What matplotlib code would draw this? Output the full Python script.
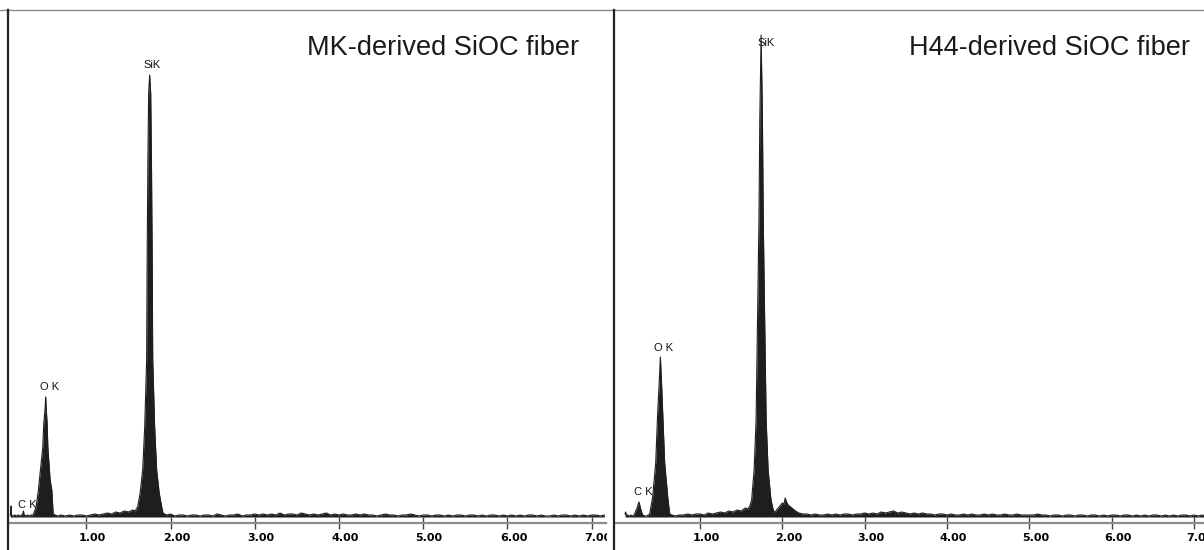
import numpy as np
import matplotlib
matplotlib.use("Agg")
import matplotlib.pyplot as plt
from matplotlib.lines import Line2D
from matplotlib.ticker import FixedLocator, FormatStrFormatter
from matplotlib.transforms import ScaledTranslation, Bbox, TransformedBbox

# ---- data (energy in keV, counts in arb. units) ----
mk_head_energy = [0.095, 0.100, 0.107, 0.112, 0.13, 0.15, 0.17, 0.19, 0.21, 0.23, 0.245, 0.253, 0.262,
                  0.28, 0.30, 0.32, 0.34, 0.368, 0.404, 0.431, 0.443, 0.483, 0.495, 0.511, 0.517, 0.523,
                  0.534, 0.543, 0.570, 0.590, 0.602, 0.606, 0.63, 0.66, 0.70, 0.75, 0.80, 0.85, 0.90,
                  0.95, 1.00, 1.05, 1.10, 1.15, 1.20, 1.25, 1.30, 1.35, 1.40, 1.45, 1.50, 1.55, 1.58,
                  1.609, 1.639, 1.669, 1.693, 1.716, 1.722, 1.731, 1.740, 1.752, 1.764, 1.773, 1.782,
                  1.788, 1.811, 1.835, 1.865, 1.895, 1.91, 1.95, 2.00, 2.05, 2.10, 2.15, 2.20, 2.25]
mk_head_counts = [2, 3, 11, 2, 1, 2, 1, 2, 1, 2, 3, 6, 2,
                  1, 2, 1, 2, 2, 10, 27, 37, 70, 94, 109, 120, 109,
                  94, 70, 37, 27, 10, 3, 2, 1, 2, 1, 2, 1, 2,
                  2, 1, 2, 3, 2, 3, 4, 3, 5, 4, 6, 5, 7, 6,
                  10, 24, 47, 90, 157, 257, 357, 424, 442, 424, 357, 257,
                  157, 90, 47, 24, 10, 4, 2, 3, 1, 2, 2, 1, 2]

h44_head_energy = [0.090, 0.097, 0.104, 0.12, 0.14, 0.16, 0.18, 0.20, 0.215, 0.235, 0.250, 0.259, 0.268,
                   0.28, 0.295, 0.304, 0.33, 0.352, 0.37, 0.389, 0.425, 0.462, 0.486, 0.502, 0.519,
                   0.535, 0.547, 0.571, 0.608, 0.632, 0.66, 0.70, 0.75, 0.80, 0.85, 0.90, 0.95, 1.00,
                   1.05, 1.10, 1.15, 1.20, 1.25, 1.30, 1.35, 1.40, 1.45, 1.50, 1.55, 1.58, 1.605,
                   1.627, 1.657, 1.681, 1.699, 1.716, 1.726, 1.742, 1.758, 1.768, 1.785, 1.803, 1.827,
                   1.862, 1.895, 1.92, 1.95, 1.98, 2.00, 2.02, 2.035, 2.05, 2.07, 2.10, 2.13, 2.16,
                   2.20, 2.25]
h44_head_counts = [3, 5, 2, 2, 1, 2, 1, 2, 5, 9, 13, 15, 12,
                   8, 4, 2, 1, 1, 2, 3, 20, 54, 104, 130, 160,
                   130, 104, 54, 20, 3, 2, 1, 2, 2, 3, 2, 3, 3,
                   2, 4, 3, 4, 5, 4, 6, 5, 7, 6, 9, 8, 11,
                   17, 47, 97, 197, 297, 397, 482, 397, 297, 197, 97, 47,
                   17, 5, 6, 9, 12, 14, 13, 19, 15, 12, 10, 8, 6,
                   4, 3]

# background from 2.30 to 7.15 keV, one reading every 0.05 keV
tail_start, tail_step = 2.30, 0.05
mk_tail_counts = [2, 1, 2, 2, 1, 3, 2, 1, 2, 2, 3, 1, 2, 2, 3,
                  2, 3, 2, 3, 2, 4, 2, 3, 3, 2, 4, 3, 2, 3, 2, 3, 4, 2, 3, 2,
                  3, 2, 2, 3, 2, 3, 2, 2, 1, 2, 3, 2, 2, 1, 2, 2, 3, 2, 1, 2,
                  2, 1, 2, 2, 1, 2, 1, 2, 2, 1, 2, 2, 1, 2, 1, 2, 2, 1, 2, 1,
                  2, 1, 2, 1, 2, 2, 1, 2, 1, 1, 2, 1, 2, 2, 1, 2, 1, 2, 1, 2, 2, 1, 2]
h44_tail_counts = [3, 2, 3, 2, 2, 3, 2, 3, 2, 3, 3, 2, 3, 3, 4,
                   3, 4, 3, 5, 4, 5, 6, 4, 5, 4, 3, 4, 3, 4, 3, 3, 2, 3, 3, 2,
                   3, 2, 2, 3, 2, 3, 2, 2, 3, 2, 3, 2, 2, 3, 2, 2, 3, 2, 2, 2,
                   2, 3, 2, 2, 1, 2, 2, 1, 2, 2, 1, 2, 2, 1, 2, 2, 1, 2, 1, 2,
                   2, 1, 2, 2, 1, 2, 1, 2, 1, 2, 2, 1, 2, 1, 2, 1, 2, 2, 1, 2, 1, 2, 1]

titles = ["MK-derived SiOC fiber", "H44-derived SiOC fiber"]
tick_values = [1, 2, 3, 4, 5, 6, 7]

# peak labels: (text, energy, counts)
mk_labels = [("C K", 0.297, 12), ("O K", 0.558, 130), ("SiK", 1.78, 452)]
h44_labels = [("C K", 0.31, 25), ("O K", 0.552, 169), ("SiK", 1.80, 474)]


def full_spectrum(head_e, head_c, tail_c):
    tail_e = tail_start + tail_step * np.arange(len(tail_c))
    return np.concatenate([head_e, tail_e]), np.concatenate([head_c, tail_c])


W, H = 1204, 550
fig = plt.figure(figsize=(W / 100, H / 100), dpi=100)
fig.patch.set_facecolor("white")

ax_l = fig.add_axes([8 / W, 27 / H, 598 / W, 513 / H])
ax_r = fig.add_axes([616 / W, 27 / H, 588 / W, 513 / H])

panels = [
    (ax_l, mk_head_energy, mk_head_counts, mk_tail_counts, mk_labels, titles[0], (0.07, 7.17), 0.955),
    (ax_r, h44_head_energy, h44_head_counts, h44_tail_counts, h44_labels, titles[1], (-0.02, 7.12), 0.976),
]

for ax, he, hc, tc, labels, title, xlim, title_x in panels:
    e, c = full_spectrum(he, hc, tc)
    ax.fill_between(e, 0, c, color="#1e1e1e", lw=0)
    ax.plot(e, c, color="#1e1e1e", lw=0.8)
    ax.set_xlim(*xlim)
    ax.set_ylim(-6, 507)
    for s in ("top", "left", "right"):
        ax.spines[s].set_visible(False)
    ax.spines["bottom"].set_color("#8c8c8c")
    ax.spines["bottom"].set_linewidth(1.6)
    ax.set_yticks([])
    ax.xaxis.set_major_locator(FixedLocator(tick_values))
    ax.xaxis.set_major_formatter(FormatStrFormatter("%.2f"))
    ax.tick_params(axis="x", direction="inout", length=8, width=1, color="#444444",
                   pad=3, labelsize=8)
    for lbl in ax.get_xticklabels():
        lbl.set_fontweight("bold")
        lbl.set_transform(lbl.get_transform() + ScaledTranslation(6 / 100, 0, fig.dpi_scale_trans))
    for txt, xe, yc in labels:
        ax.text(xe, yc, txt, ha="center", va="center", fontsize=8,
                family="Liberation Sans", color="#111111")
    ax.text(title_x, 0.926, title, transform=ax.transAxes,
            ha="right", va="center", fontsize=19.5, family="Liberation Sans", color="#1a1a1a")

# clip the left panel's last tick label at the divider, as in the original
clip = TransformedBbox(Bbox([[0, 0], [607 / W, 1]]), fig.transFigure)
for lbl in ax_l.get_xticklabels():
    lbl.set_clip_on(True)
    lbl.set_clip_box(clip)

# frame lines
fig.add_artist(Line2D([0, 1], [540 / H, 540 / H], color="#8a8a8a", lw=1.0))
fig.add_artist(Line2D([8 / W, 8 / W], [0, 540 / H], color="#222222", lw=1.6))
fig.add_artist(Line2D([614 / W, 614 / W], [0, 540 / H], color="#222222", lw=1.6))

fig.savefig("out.png", dpi=100)
